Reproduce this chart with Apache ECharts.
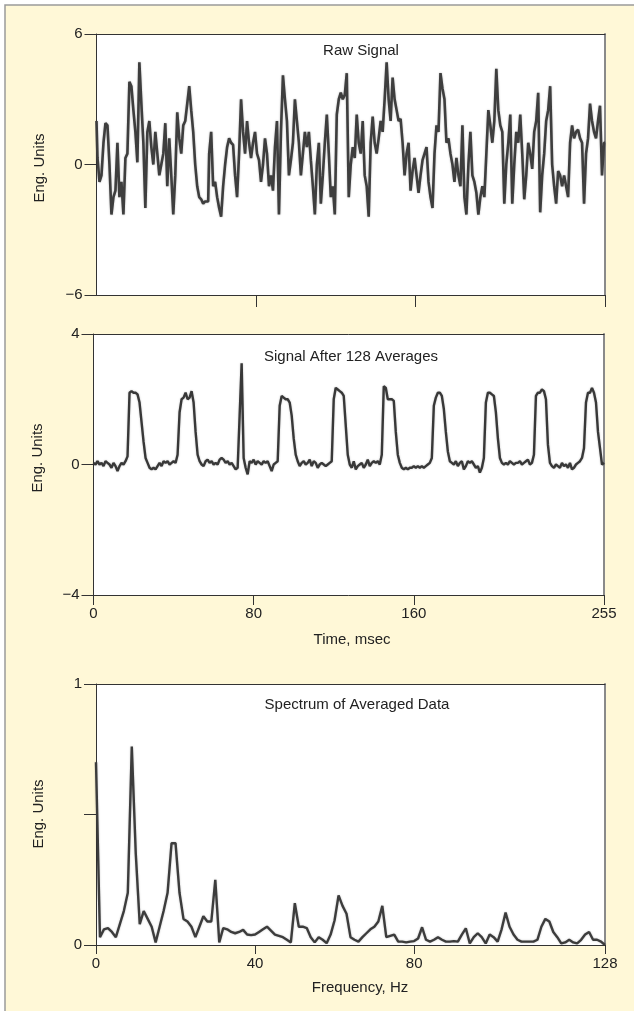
<!DOCTYPE html>
<html>
<head>
<meta charset="utf-8">
<script src="https://cdn.jsdelivr.net/npm/echarts@6/dist/echarts.min.js"></script>
<style>
html,body{margin:0;padding:0;background:#fff;}
#chart{width:634px;height:1011px;}
</style>
</head>
<body>
<div id="chart"></div>
<script>
// ---- Data ----
const rawSignal = [
 2.0, 0.3, -0.8, -0.5, 1.0, 1.9, 1.8, 0.0, -2.3, -1.5,
 -1.2, 1.0, -1.5, -0.8, -2.3, 0.3, 0.5, 3.8, 3.6, 2.5,
 1.5, 0.1, 4.7, 2.8, 1.0, -2.0, 1.5, 2.0, 0.8, 0.0,
 1.5, 0.5, -0.5, 0.0, 0.5, 1.9, -1.0, 1.2, -0.5, -2.3,
 -0.5, 2.4, 1.2, 0.5, 1.8, 2.0, 2.8, 3.6, 2.5, 1.5,
 0.0, -1.0, -1.5, -1.6, -1.8, -1.7, -1.7, 0.5, 1.5, -1.0,
 -0.8, -1.5, -2.0, -2.4, -1.0, 0.0, 0.8, 1.2, 1.0, 0.9,
 -0.5, -1.5, 0.5, 3.0, 1.5, 0.5, 2.0, 1.0, 0.3, 1.0,
 1.5, 0.5, 0.2, -0.8, 0.0, 1.2, 0.5, -1.0, -0.5, -1.2,
 0.8, 2.0, -2.3, 1.5, 4.1, 3.0, 2.0, -0.5, 0.2, 1.0,
 3.0, 2.0, 1.0, -0.5, 0.5, 1.5, 0.8, 1.5, 0.2, -1.0,
 -2.3, 0.0, 1.0, -1.8, -0.5, 1.0, 2.3, 0.5, -1.5, -1.0,
 -2.3, 2.3, 3.0, 3.3, 3.0, 3.2, 4.2, -1.5, 0.0, 0.8,
 0.3, 2.3, 1.0, 0.5, 2.0, -0.5, -1.0, -2.4, 1.0, 2.2,
 1.0, 0.5, 1.2, 2.0, 1.5, 3.0, 4.7, 3.0, 2.0, 4.0,
 3.0, 2.5, 2.0, 2.1, 1.0, -0.5, 0.5, 1.0, -1.2, -0.3,
 0.3, -0.5, -1.3, -0.5, 0.2, 0.5, 0.8, -0.8, -1.5, -2.0,
 0.5, 1.8, 1.5, 4.2, 3.5, 3.0, 1.0, 1.2, 0.5, 0.0,
 -0.8, 0.3, -0.5, -1.0, 1.8, -1.5, -2.3, 0.0, 1.5, -0.5,
 -0.8, -1.3, -2.3, -1.5, -1.0, -1.5, 0.5, 2.5, 1.8, 1.0,
 2.0, 4.4, 2.5, 1.8, 1.5, -1.8, 0.0, 1.0, 2.3, -1.8,
 0.0, 1.5, 1.0, 2.3, 0.5, -1.6, -0.5, 1.0, 0.5, -0.2,
 1.5, 2.0, 3.3, -2.2, -0.5, 0.5, 2.0, 2.5, 3.6, 0.0,
 -1.0, -1.8, -0.3, -0.5, -1.0, -0.5, -1.0, -1.5, 1.0, 1.8,
 1.2, 1.5, 1.6, 1.2, 1.0, -1.8, 0.5, 1.2, 2.8, 2.0,
 1.5, 1.2, 2.0, 2.7, -0.5, 1.0
];

const avgSignal = [
 0.05, 0.0, 0.1, 0.0, 0.05, -0.05, 0.1, 0.05, 0.0, -0.1,
 0.05, -0.05, -0.2, -0.05, 0.05, 0.0, 0.1, 0.25, 2.2, 2.25,
 2.2, 2.2, 2.15, 1.9, 1.3, 0.7, 0.2, 0.05, -0.1, -0.15,
 -0.1, -0.15, -0.05, 0.05, -0.05, 0.1, 0.05, 0.1, 0.0, 0.05,
 0.1, 0.05, 0.3, 1.6, 2.0, 2.05, 2.2, 2.0, 2.05, 2.25,
 1.9, 1.0, 0.3, 0.1, 0.0, -0.05, 0.1, 0.15, 0.05, 0.1,
 0.0, 0.05, 0.0, 0.15, 0.2, 0.15, 0.05, 0.1, 0.0, 0.05,
 -0.05, -0.15, -0.1, 1.5, 3.1, 0.2, -0.1, -0.3, 0.1, 0.05,
 0.15, 0.0, 0.1, 0.05, 0.0, 0.1, 0.05, 0.1, -0.05, -0.2,
 0.0, 0.05, 0.1, 1.8, 2.1, 2.05, 2.0, 2.0, 1.9, 1.5,
 0.8, 0.3, 0.1, -0.05, 0.05, 0.1, 0.0, 0.05, 0.15, -0.05,
 0.1, 0.05, -0.1, 0.0, 0.05, 0.0, -0.05, 0.0, 0.05, 0.1,
 2.0, 2.35, 2.3, 2.25, 2.2, 2.1, 1.2, 0.3, 0.0, -0.1,
 0.1, -0.15, -0.05, 0.0, 0.05, -0.1, 0.0, 0.15, -0.05, 0.05,
 0.1, 0.05, 0.1, 0.0, 0.3, 2.4, 2.35, 2.0, 2.0, 2.0,
 1.95, 1.0, 0.3, 0.05, -0.1, -0.15, -0.1, -0.15, -0.1, -0.1,
 -0.05, -0.1, -0.05, -0.1, -0.05, -0.1, -0.05, 0.0, 0.05, 0.2,
 1.8, 2.05, 2.2, 2.2, 2.1, 1.7, 1.0, 0.4, 0.1, 0.05,
 0.0, 0.1, -0.05, 0.05, 0.1, -0.15, -0.05, 0.1, 0.05, 0.1,
 0.0, -0.1, -0.05, -0.25, -0.1, 0.2, 1.9, 2.2, 2.2, 2.15,
 2.1, 1.6, 0.8, 0.2, 0.05, 0.0, 0.05, 0.0, 0.1, 0.05,
 0.0, 0.05, 0.05, 0.1, 0.0, 0.05, 0.1, 0.15, 0.0, 0.05,
 0.3, 2.1, 2.2, 2.2, 2.3, 2.25, 2.0, 0.6, 0.05, -0.05,
 -0.1, 0.0, -0.05, -0.1, 0.05, -0.05, 0.0, -0.1, 0.05, -0.15,
 -0.1, 0.0, 0.05, 0.1, 0.2, 0.5, 1.9, 2.2, 2.2, 2.35,
 2.2, 1.9, 1.0, 0.5, 0.0, 0.05
];

const spectrum = [
 0.70, 0.03, 0.06, 0.065, 0.05, 0.03, 0.08, 0.13, 0.2, 0.76,
 0.35, 0.08, 0.13, 0.10, 0.07, 0.01, 0.07, 0.13, 0.2, 0.39,
 0.39, 0.2, 0.10, 0.09, 0.07, 0.03, 0.07, 0.11, 0.09, 0.09,
 0.25, 0.01, 0.065, 0.06, 0.05, 0.045, 0.05, 0.058, 0.04, 0.038,
 0.04, 0.05, 0.06, 0.07, 0.055, 0.04, 0.035, 0.03, 0.02, 0.01,
 0.16, 0.07, 0.07, 0.065, 0.03, 0.01, 0.03, 0.02, 0.007, 0.04,
 0.095, 0.19, 0.15, 0.12, 0.03, 0.02, 0.013, 0.03, 0.045, 0.06,
 0.07, 0.09, 0.15, 0.03, 0.035, 0.04, 0.013, 0.013, 0.01, 0.013,
 0.015, 0.025, 0.068, 0.02, 0.013, 0.02, 0.03, 0.02, 0.013, 0.013,
 0.015, 0.013, 0.04, 0.064, 0.006, 0.03, 0.045, 0.03, 0.006, 0.04,
 0.03, 0.013, 0.06, 0.124, 0.07, 0.04, 0.02, 0.013, 0.013, 0.013,
 0.013, 0.02, 0.07, 0.10, 0.09, 0.05, 0.03, 0.006, 0.01, 0.02,
 0.01, 0.006, 0.02, 0.04, 0.05, 0.02, 0.02, 0.013, 0.0
];

const timeTicks = [0, 80, 160, 255];
const freqTicks = [0, 40, 80, 128];
const rawTicksY = [-6, 0, 6];
const avgTicksY = [-4, 0, 4];
const specTicksY = [0, 0.5, 1];
const specLabelsY = [0, 1];

const titles = ['Raw Signal', 'Signal After 128 Averages', 'Spectrum of Averaged Data'];
const yName = 'Eng. Units';
const xNames = ['Time, msec', 'Frequency, Hz'];

// ---- Chart ----
const FONT = '"Liberation Sans", Arial, Helvetica, sans-serif';
const TXT = '#222';
const fmt = v => (v < 0 ? '\u2212' + (-v) : String(v));

const grids = [
  {left: 96.5, top: 34, width: 508.5, height: 261},
  {left: 93.5, top: 334, width: 510.5, height: 261},
  {left: 96, top: 684, width: 509, height: 261}
];

function bottomX(gi, max, ticks, labels, tickLen) {
  return {
    type: 'value', gridIndex: gi, position: 'bottom', min: 0, max: max,
    axisLine: {show: true, onZero: false, lineStyle: {color: '#333', width: 1}},
    axisTick: {show: true, inside: false, length: tickLen, customValues: ticks, lineStyle: {color: '#333', width: 1}},
    axisLabel: labels ? {show: true, customValues: labels, margin: 11, color: TXT, fontSize: 15, fontFamily: FONT, formatter: fmt} : {show: false},
    splitLine: {show: false}
  };
}
function leftY(gi, min, max, ticks, labels) {
  return {
    type: 'value', gridIndex: gi, position: 'left', min: min, max: max,
    axisLine: {show: true, onZero: false, lineStyle: {color: '#333', width: 1}},
    axisTick: {show: true, inside: false, length: 12, customValues: ticks, lineStyle: {color: '#333', width: 1}},
    axisLabel: {show: true, customValues: labels, margin: 14, color: TXT, fontSize: 15, fontFamily: FONT, formatter: fmt},
    splitLine: {show: false}
  };
}
function topX(gi, max) {
  return {type: 'value', gridIndex: gi, position: 'top', min: 0, max: max,
    axisLine: {show: true, onZero: false, lineStyle: {color: '#333', width: 1}},
    axisTick: {show: false}, axisLabel: {show: false}, splitLine: {show: false}};
}
function rightY(gi, min, max) {
  return {type: 'value', gridIndex: gi, position: 'right', min: min, max: max,
    axisLine: {show: true, onZero: false, lineStyle: {color: '#8a8a8a', width: 2}},
    axisTick: {show: false}, axisLabel: {show: false}, splitLine: {show: false}};
}

const textEl = (text, x, y, rot) => ({
  type: 'text', x: x, y: y, rotation: rot || 0, z: 50, silent: true,
  style: {text: text, fill: TXT, font: '15px ' + FONT, align: 'center', verticalAlign: 'middle'}
});

const option = {
  backgroundColor: '#ffffff',
  animation: false,
  grid: grids.map(g => Object.assign({show: true, backgroundColor: '#ffffff', borderWidth: 0, containLabel: false}, g)),
  xAxis: [
    bottomX(0, 255, timeTicks.slice(1), null, 12),
    bottomX(1, 255, timeTicks, timeTicks, 10),
    bottomX(2, 128, freqTicks, freqTicks, 9),
    topX(0, 255), topX(1, 255), topX(2, 128)
  ],
  yAxis: [
    leftY(0, -6, 6, rawTicksY, rawTicksY),
    leftY(1, -4, 4, avgTicksY, avgTicksY),
    leftY(2, 0, 1, specTicksY, specLabelsY),
    rightY(0, -6, 6), rightY(1, -4, 4), rightY(2, 0, 1)
  ],
  graphic: [
    {type: 'rect', z: -100, silent: true, shape: {x: 5, y: 5, width: 800, height: 1200},
     style: {fill: '#FFF8D7', stroke: '#9a9a9a', lineWidth: 1.5}},
    textEl(titles[0], 361, 51),
    textEl(titles[1], 351, 357),
    textEl(titles[2], 357, 705),
    textEl(yName, 40, 168, Math.PI / 2),
    textEl(yName, 38, 458, Math.PI / 2),
    textEl(yName, 39, 814, Math.PI / 2),
    textEl(xNames[0], 352, 640),
    textEl(xNames[1], 360, 988)
  ],
  series: [
    {type: 'line', xAxisIndex: 0, yAxisIndex: 0, step: 'middle', showSymbol: false, symbol: 'none',
     data: rawSignal.map((v, i) => [i, v]),
     lineStyle: {color: '#3e3e3e', width: 2.6, shadowColor: 'rgba(0,0,0,0.3)', shadowBlur: 2}},
    {type: 'line', xAxisIndex: 1, yAxisIndex: 1, showSymbol: false, symbol: 'none',
     data: avgSignal.map((v, i) => [i, v]),
     lineStyle: {color: '#383838', width: 2.4, shadowColor: 'rgba(0,0,0,0.25)', shadowBlur: 2}},
    {type: 'line', xAxisIndex: 2, yAxisIndex: 2, showSymbol: false, symbol: 'none',
     data: spectrum.map((v, i) => [i, v]),
     lineStyle: {color: '#3c3c3c', width: 2.4, shadowColor: 'rgba(0,0,0,0.25)', shadowBlur: 2}}
  ]
};

const chart = echarts.init(document.getElementById('chart'), null, {renderer: 'canvas'});
chart.setOption(option);
</script>
</body>
</html>
